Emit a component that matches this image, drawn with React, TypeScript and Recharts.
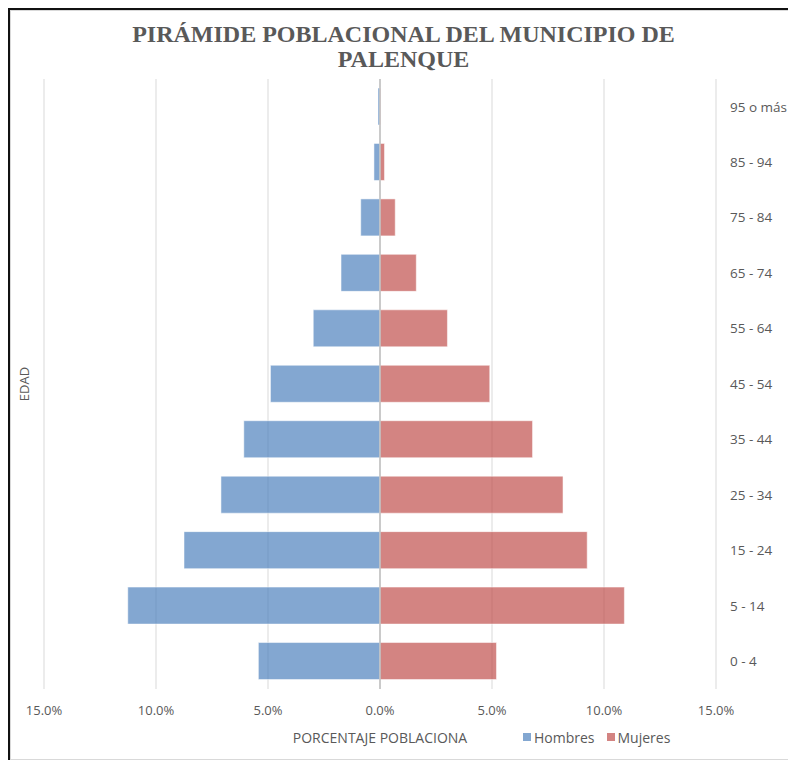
import React from 'react';
import { BarChart, Bar, XAxis, YAxis, CartesianGrid, ReferenceLine, Legend } from 'recharts';

// Age groups, bottom to top
const AGE_GROUPS = ['0 - 4', '5 - 14', '15 - 24', '25 - 34', '35 - 44', '45 - 54', '55 - 64', '65 - 74', '75 -  84', '85 - 94', '95 o más'];
// percent of population (men drawn to the left)
const HOMBRES = [5.43, 11.26, 8.75, 7.1, 6.08, 4.89, 2.98, 1.74, 0.86, 0.27, 0.09];
const MUJERES = [5.2, 10.91, 9.25, 8.17, 6.81, 4.9, 3.01, 1.62, 0.68, 0.2, 0.03];
const X_TICKS = [-15, -10, -5, 0, 5, 10, 15];

const BLUE = '#4F81BD';
const RED = '#C0504D';
const TEXT = '#595959';
const FONT = '"Open Sans", sans-serif';

const data = AGE_GROUPS.map((age, i) => ({
  age,
  hombres: -HOMBRES[i],
  mujeres: MUJERES[i],
}));

const fmtPct = (v: number) => `${Math.abs(v).toFixed(1)}%`;

function XTitle(props: any) {
  const vb = props.viewBox || {};
  return (
    <text x={vb.x + vb.width / 2} y={vb.y + 48} textAnchor="middle" dominantBaseline="central"
      fill={TEXT} fontSize={14} fontFamily={FONT}>
      PORCENTAJE POBLACIONA
    </text>
  );
}

function YTitle(props: any) {
  const vb = props.viewBox || {};
  const cx = vb.x + 13;
  const cy = vb.y + vb.height / 2;
  return (
    <text x={cx} y={cy} transform={`rotate(-90 ${cx} ${cy})`} textAnchor="middle" dominantBaseline="central"
      fill={TEXT} fontSize={13} fontFamily={FONT}>
      EDAD
    </text>
  );
}

function LegendBox() {
  const items = [
    { name: 'Hombres', color: BLUE },
    { name: 'Mujeres', color: RED },
  ];
  return (
    <div style={{ paddingLeft: 512, display: 'flex', alignItems: 'center', height: 26, fontFamily: FONT, fontSize: 14, color: TEXT }}>
      {items.map((it) => (
        <span key={it.name} style={{ display: 'flex', alignItems: 'center', marginRight: 12 }}>
          <span style={{ width: 8, height: 8, background: it.color, opacity: 0.7, marginRight: 3 }} />
          {it.name}
        </span>
      ))}
    </div>
  );
}

export default function App() {
  return (
    <div style={{ width: 786, height: 750, borderTop: '2px solid #111', borderLeft: '2px solid #111' }}>
      <div style={{ position: 'relative', width: 785, height: 748, borderTop: '1px solid #d9d9d9', borderLeft: '1px solid #d9d9d9', borderBottom: '1px solid #d9d9d9', background: '#fff' }}>
        <div style={{ position: 'absolute', top: 11, left: 0, width: 785, textAlign: 'center', fontFamily: '"Liberation Serif", "Times New Roman", serif', fontWeight: 'bold', fontSize: 24, lineHeight: '25px', color: TEXT }}>
          PIRÁMIDE POBLACIONAL DEL MUNICIPIO DE<br />PALENQUE
        </div>
        <BarChart
          width={785}
          height={748}
          data={data}
          layout="vertical"
          stackOffset="sign"
          barSize={37}
          margin={{ top: 68, right: 0, bottom: 9, left: 0 }}
        >
          <CartesianGrid horizontal={false} stroke="#d9d9d9" />
          <XAxis
            type="number"
            domain={[-15, 15]}
            ticks={X_TICKS}
            tickFormatter={fmtPct}
            axisLine={false}
            tickLine={false}
            tickMargin={11}
            height={35}
            tick={{ fill: TEXT, fontSize: 13, fontFamily: FONT }}
            label={<XTitle />}
          />
          <YAxis
            yAxisId="edad"
            type="category"
            dataKey="age"
            orientation="left"
            reversed
            width={33}
            tick={false}
            axisLine={false}
            tickLine={false}
            label={<YTitle />}
          />
          <YAxis
            type="category"
            dataKey="age"
            orientation="right"
            reversed
            width={80}
            axisLine={false}
            tickLine={false}
            tickMargin={8}
            tick={{ fill: TEXT, fontSize: 13.5, fontFamily: FONT, textAnchor: 'start' }}
          />
          <Bar dataKey="hombres" name="Hombres" stackId="a" fill={BLUE} fillOpacity={0.7} stroke="#fff" strokeOpacity={0.5} isAnimationActive={false} />
          <Bar dataKey="mujeres" name="Mujeres" stackId="a" fill={RED} fillOpacity={0.7} stroke="#fff" strokeOpacity={0.5} isAnimationActive={false} />
          <ReferenceLine x={0} stroke="#bfbfbf" strokeWidth={1.5} />
          <Legend verticalAlign="bottom" align="left" height={26} content={<LegendBox />} />
        </BarChart>
      </div>
    </div>
  );
}
